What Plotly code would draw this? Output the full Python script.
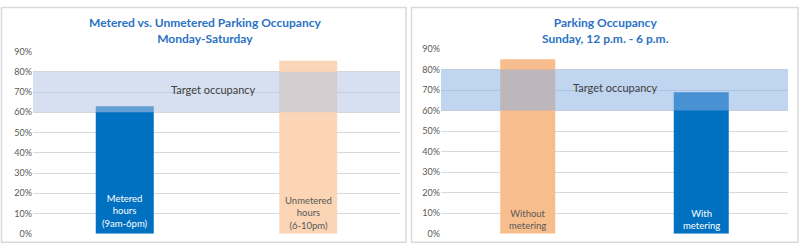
import plotly.graph_objects as go

# ---- data ----
left_categories = ["Metered hours (9am-6pm)", "Unmetered hours (6-10pm)"]
left_values = [0.63, 0.855]
left_labels = ["Metered<br>hours<br>(9am-6pm)", "Unmetered<br>hours<br>(6-10pm)"]

right_categories = ["Without metering", "With metering"]
right_values = [0.85, 0.69]
right_labels = ["Without<br>metering", "With<br>metering"]

target_low = 0.60
target_high = 0.80
y_ticks = [0, 0.1, 0.2, 0.3, 0.4, 0.5, 0.6, 0.7, 0.8, 0.9]
y_tick_text = ["0%", "10%", "20%", "30%", "40%", "50%", "60%", "70%", "80%", "90%"]

left_title = "Metered vs. Unmetered Parking Occupancy<br>Monday-Saturday"
right_title = "Parking Occupancy<br>Sunday, 12 p.m. - 6 p.m."
band_label = "Target occupancy"

# ---- style ----
BLUE = "#0070c0"
PEACH_L = "#fbd5b5"
PEACH_R = "#f8bd8c"
TITLE_C = "#2a72c4"
FONT = "Lato"
W, H = 800, 250

fig = go.Figure()
fig.add_trace(go.Bar(x=left_categories, y=left_values, marker_color=[BLUE, PEACH_L],
                     marker_line_width=0, width=0.316, xaxis="x", yaxis="y",
                     hoverinfo="skip", showlegend=False))
fig.add_trace(go.Bar(x=right_categories, y=right_values, marker_color=[PEACH_R, BLUE],
                     marker_line_width=0, width=0.317, xaxis="x2", yaxis="y2",
                     hoverinfo="skip", showlegend=False))

# panel borders
fig.add_shape(type="rect", xref="paper", yref="paper", x0=1.5/W, x1=406/W, y0=(H-247)/H, y1=(H-1.5)/H,
              line=dict(color="#d9d9d9", width=1.5), layer="below")
fig.add_shape(type="rect", xref="paper", yref="paper", x0=411.5/W, x1=798/W, y0=(H-247)/H, y1=(H-1.5)/H,
              line=dict(color="#d9d9d9", width=1.5), layer="below")

# target bands
fig.add_shape(type="rect", xref="x domain", yref="y", x0=0, x1=1, y0=target_low, y1=target_high,
              fillcolor="rgba(180,199,228,0.55)", line_width=0, layer="above")
fig.add_shape(type="rect", xref="x2 domain", yref="y2", x0=0, x1=1, y0=target_low, y1=target_high,
              fillcolor="rgba(136,175,226,0.53)", line_width=0, layer="above")

ann = []
ann.append(dict(text=band_label, xref="paper", yref="y", x=213/W, y=0.715, showarrow=False,
                font=dict(family=FONT, size=11, color="#404040"), xanchor="center", yanchor="middle"))
ann.append(dict(text=band_label, xref="paper", yref="y2", x=615/W, y=0.715, showarrow=False,
                font=dict(family=FONT, size=11, color="#404040"), xanchor="center", yanchor="middle"))
# bar labels
ann.append(dict(text=left_labels[0], xref="x", yref="y", x=left_categories[0], y=0.015, showarrow=False,
                font=dict(family=FONT, size=9.5, color="white"), yanchor="bottom"))
ann.append(dict(text=left_labels[1], xref="x", yref="y", x=left_categories[1], y=0.005, showarrow=False,
                font=dict(family=FONT, size=9.5, color="#595959"), yanchor="bottom"))
ann.append(dict(text=right_labels[0], xref="x2", yref="y2", x=right_categories[0], y=0.005, showarrow=False,
                font=dict(family=FONT, size=9.5, color="#595959"), yanchor="bottom"))
ann.append(dict(text=right_labels[1], xref="x2", yref="y2", x=right_categories[1], y=0.005, showarrow=False,
                font=dict(family=FONT, size=9.5, color="white"), yanchor="bottom"))
# titles
ann.append(dict(text="<b>" + left_title + "</b>", xref="paper", yref="paper", x=205/W, y=(H-7)/H,
                showarrow=False, yanchor="top", xanchor="center",
                font=dict(family=FONT, size=12, color=TITLE_C)))
ann.append(dict(text="<b>" + right_title + "</b>", xref="paper", yref="paper", x=605/W, y=(H-7)/H,
                showarrow=False, yanchor="top", xanchor="center",
                font=dict(family=FONT, size=12, color=TITLE_C)))

yax_common = dict(range=[0, 0.9], tickvals=y_ticks, ticktext=y_tick_text, showgrid=True,
                  gridcolor="#d9d9d9", gridwidth=1, zeroline=False, showline=False,
                  tickfont=dict(family=FONT, size=9, color="#595959"), ticks="", ticklen=0,
                  fixedrange=True)
xax_common = dict(showticklabels=False, showgrid=False, zeroline=False, showline=False, ticks="",
                  fixedrange=True)

fig.update_layout(
    width=W, height=H, margin=dict(l=0, r=0, t=0, b=0),
    paper_bgcolor="white", plot_bgcolor="rgba(0,0,0,0)",
    xaxis=dict(domain=[33/W, 400/W], anchor="y", **xax_common),
    yaxis=dict(domain=[(H-238.3)/H, (H-47.7)/H], anchor="x", **yax_common),
    xaxis2=dict(domain=[441/W, 788/W], anchor="y2", **xax_common),
    yaxis2=dict(domain=[(H-238.3)/H, (H-45)/H], anchor="x2", **yax_common),
    annotations=ann,
    bargap=0.2,
    showlegend=False,
)

fig.write_html(
    "out.html",
    config={"displayModeBar": False},
    post_script="document.body.style.margin='0';document.body.style.padding='0';"
                "document.documentElement.style.margin='0';document.body.style.overflow='hidden';",
)
